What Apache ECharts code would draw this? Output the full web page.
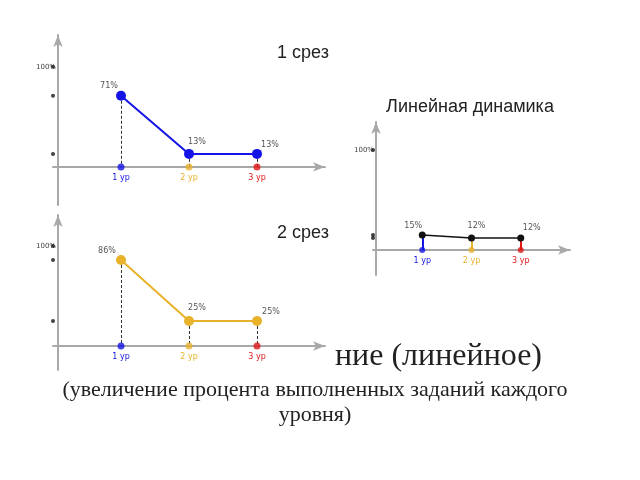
<!DOCTYPE html>
<html><head><meta charset="utf-8">
<script src="https://cdn.jsdelivr.net/npm/echarts@6/dist/echarts.min.js"></script>
<style>html,body{margin:0;padding:0;background:#fff}#c{width:640px;height:480px}</style>
</head><body><div id="c"></div>
<script>
const categories = ['1 ур', '2 ур', '3 ур'];
const cut1 = [71, 13, 13];
const cut2 = [86, 25, 25];
const linear = [15, 12, 12];
const levelColors = ['#1414e6', '#e8b22a', '#e01818'];
const yTopLabel = 100;
const titles = ['1 срез', '2 срез', 'Линейная динамика'];
const caption = ['ние (линейное)', '(увеличение процента выполненных заданий каждого', 'уровня)'];

const axisCats = [' '].concat(categories, ['  ']);
const gray = '#a8a8a8';

const charts = [
  {vals: cut1, color: '#1414e6', grid: {left: 53, top: 35, width: 272, height: 170}, xmin: -0.075, xmax: 4.015, ymin: -38, ymax: 131.7,
   sym: 10, axisSym: 7, stem: 'dash',
   offsets: [[-12, -10], [8, -12], [13, -9]]},
  {vals: cut2, color: '#e8b22a', grid: {left: 53, top: 215, width: 272, height: 155}, xmin: -0.075, xmax: 4.015, ymin: -24, ymax: 131,
   sym: 10, axisSym: 7, stem: 'dash',
   offsets: [[-14, -9], [8, -13], [14, -9]]},
  {vals: linear, color: '#111', grid: {left: 373, top: 122, width: 197, height: 153}, xmin: -0.0625, xmax: 4.04, ymin: -25, ymax: 128,
   sym: 7, axisSym: 6, stem: 'color',
   offsets: [[-9, -9], [5, -12], [11, -10]]}
];

const grids = [], xAxes = [], yAxes = [], series = [];
charts.forEach((c, k) => {
  grids.push(c.grid);
  const unitY = c.grid.height / (c.ymax - c.ymin);
  const unitX = c.grid.width / (c.xmax - c.xmin);
  xAxes.push({
    type: 'category', gridIndex: k, data: axisCats, boundaryGap: false, min: c.xmin, max: c.xmax,
    axisLine: {onZero: true, symbol: ['none', 'arrow'], symbolSize: [7, 12], lineStyle: {color: gray, width: 2}},
    axisTick: {show: false}, splitLine: {show: false},
    axisLabel: {fontSize: 8, fontFamily: 'DejaVu Sans', margin: Math.round(7 + c.ymin * unitY), interval: 0,
      color: (v) => { const j = categories.indexOf(v); return j >= 0 ? levelColors[j] : '#fff'; }}
  });
  yAxes.push({
    type: 'value', gridIndex: k, min: c.ymin, max: c.ymax, offset: c.xmin * unitX,
    axisLine: {show: true, onZero: false, symbol: ['none', 'arrow'], symbolSize: [7, 12], lineStyle: {color: gray, width: 2}},
    axisTick: {show: false}, splitLine: {show: false},
    axisLabel: {show: true, customValues: [yTopLabel], formatter: '{value}%', fontSize: 7, color: '#444', margin: 2, fontFamily: 'DejaVu Sans'}
  });
  const stems = categories.map((cat, i) => [
    {coord: [cat, c.vals[i]], lineStyle: c.stem === 'dash' ? {color: '#333', type: [3, 2], width: 1} : {color: levelColors[i], type: 'solid', width: 2}},
    {coord: [cat, 0]}
  ]);
  series.push({
    type: 'line', xAxisIndex: k, yAxisIndex: k, data: categories.map((cat, i) => [cat, c.vals[i]]),
    symbol: 'circle', symbolSize: c.sym,
    lineStyle: {color: c.color, width: k === 2 ? 1.5 : 2}, itemStyle: {color: c.color}, z: 5,
    label: {show: true, position: 'inside', fontSize: 8, color: '#555', fontFamily: 'DejaVu Sans',
      formatter: p => p.value[1] + '%'},
    labelLayout: p => ({dx: c.offsets[p.dataIndex][0], dy: c.offsets[p.dataIndex][1]}),
    markLine: {silent: true, symbol: 'none', label: {show: false}, data: stems, z: 2},
    animation: false
  });
  series.push({
    type: 'scatter', xAxisIndex: k, yAxisIndex: k, symbolSize: c.axisSym, z: 6,
    data: categories.map((cat, i) => ({value: [cat, 0], itemStyle: {color: levelColors[i]}})), animation: false
  });
  const yd = [yTopLabel].concat(c.vals.filter((v, i, a) => a.indexOf(v) === i));
  series.push({
    type: 'scatter', xAxisIndex: k, yAxisIndex: k, symbolSize: 4, z: 6, itemStyle: {color: '#111'},
    data: yd.map(v => [' ', v]), animation: false
  });
});

const chart = echarts.init(document.getElementById('c'));
chart.setOption({
  backgroundColor: '#fff',
  animation: false,
  grid: grids, xAxis: xAxes, yAxis: yAxes, series: series,
  graphic: [
    {type: 'text', x: 303, y: 53, style: {text: titles[0], font: '18px "Liberation Sans", Arial', fill: '#222', align: 'center', verticalAlign: 'middle'}},
    {type: 'text', x: 303, y: 233, style: {text: titles[1], font: '18px "Liberation Sans", Arial', fill: '#222', align: 'center', verticalAlign: 'middle'}},
    {type: 'text', x: 470, y: 107, style: {text: titles[2], font: '18px "Liberation Sans", Arial', fill: '#222', align: 'center', verticalAlign: 'middle'}},
    {type: 'text', x: 542, y: 357, style: {text: caption[0], font: '32px "Liberation Serif", "Times New Roman", serif', fill: '#222', align: 'right', verticalAlign: 'middle'}},
    {type: 'rect', shape: {x: 327, y: 336, width: 8, height: 40}, style: {fill: '#fff'}, z: 10},
    {type: 'text', x: 315, y: 390, style: {text: caption[1], font: '22px "Liberation Serif", "Times New Roman", serif', fill: '#222', align: 'center', verticalAlign: 'middle'}},
    {type: 'text', x: 315, y: 415, style: {text: caption[2], font: '22px "Liberation Serif", "Times New Roman", serif', fill: '#222', align: 'center', verticalAlign: 'middle'}}
  ]
});
</script></body></html>
